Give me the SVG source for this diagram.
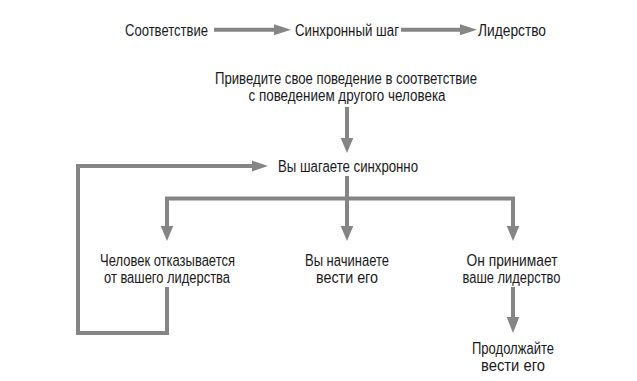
<svg xmlns="http://www.w3.org/2000/svg" width="637" height="381" viewBox="0 0 637 381">
<style>
text{font-family:"Liberation Sans",Arial,sans-serif;font-size:16px;fill:#1a1a1a;text-anchor:middle}
.ln{fill:none;stroke:#858585;stroke-width:4;stroke-linejoin:miter;stroke-linecap:butt}
.hd{fill:#858585}
</style>
<rect width="637" height="381" fill="#fff"/>
<g id="connectors">
<path class="ln" d="M214 29.7H276"/>
<polygon class="hd" points="274,24.2 291,29.7 274,35.2"/>
<path class="ln" d="M401 29.7H462"/>
<polygon class="hd" points="460,24.2 477,29.7 460,35.2"/>
<path class="ln" d="M347 107V140"/>
<polygon class="hd" points="340.7,138 353.3,138 347,153"/>
<path class="ln" d="M167 287V333H78V166H254"/>
<polygon class="hd" points="252,160.5 268,166 252,171.5"/>
<path class="ln" d="M347 176V228"/>
<polygon class="hd" points="340.7,226 353.3,226 347,241"/>
<path class="ln" d="M167 228V198.5H513V228"/>
<polygon class="hd" points="160.7,226 173.3,226 167,241"/>
<polygon class="hd" points="506.7,226 519.3,226 513,241"/>
<path class="ln" d="M513 287V319"/>
<polygon class="hd" points="506.7,317 519.3,317 513,333"/>
</g>
<g id="n1"><text x="166.5" y="35.5" textLength="83" lengthAdjust="spacingAndGlyphs">Соответствие</text></g>
<g id="n2"><text x="347" y="35.5" textLength="104" lengthAdjust="spacingAndGlyphs">Синхронный шаг</text></g>
<g id="n3"><text x="512" y="35.5" textLength="68" lengthAdjust="spacingAndGlyphs">Лидерство</text></g>
<g id="n4"><text x="346" y="84" textLength="262" lengthAdjust="spacingAndGlyphs">Приведите свое поведение в соответствие</text><text x="347" y="100.5" textLength="197" lengthAdjust="spacingAndGlyphs">с поведением другого человека</text></g>
<g id="n5"><text x="348" y="171.5" textLength="140" lengthAdjust="spacingAndGlyphs">Вы шагаете синхронно</text></g>
<g id="n6"><text x="167.5" y="266" textLength="135" lengthAdjust="spacingAndGlyphs">Человек отказывается</text><text x="167" y="283" textLength="126" lengthAdjust="spacingAndGlyphs">от вашего лидерства</text></g>
<g id="n7"><text x="347" y="266" textLength="84" lengthAdjust="spacingAndGlyphs">Вы начинаете</text><text x="347" y="283" textLength="62" lengthAdjust="spacingAndGlyphs">вести его</text></g>
<g id="n8"><text x="512" y="266" textLength="91" lengthAdjust="spacingAndGlyphs">Он принимает</text><text x="511.5" y="283" textLength="98" lengthAdjust="spacingAndGlyphs">ваше лидерство</text></g>
<g id="n9"><text x="513" y="354" textLength="82" lengthAdjust="spacingAndGlyphs">Продолжайте</text><text x="513" y="371" textLength="64" lengthAdjust="spacingAndGlyphs">вести его</text></g>
</svg>
